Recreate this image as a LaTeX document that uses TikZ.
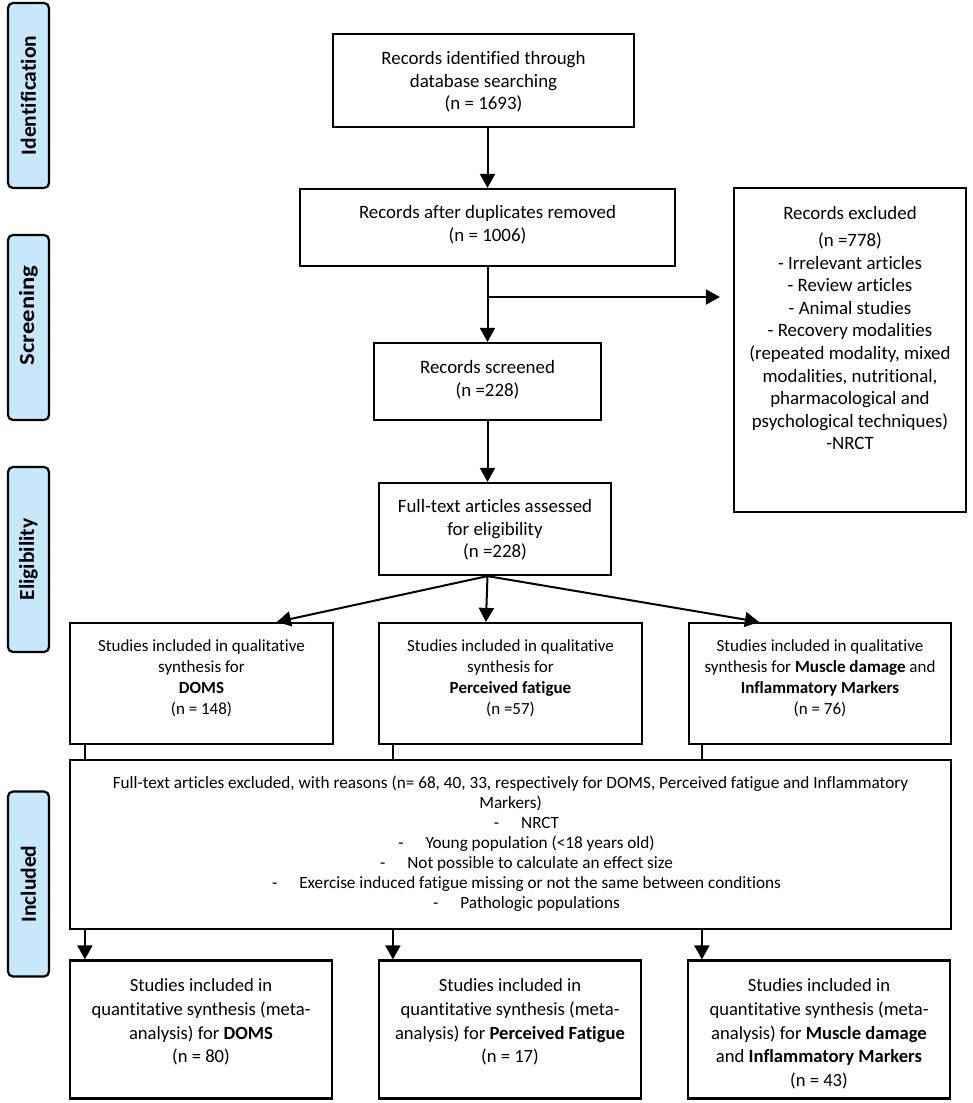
\documentclass[tikz,border=0pt]{standalone}
\usepackage{fontspec}
\setmainfont{Carlito}[Ligatures=NoCommon]
\usetikzlibrary{arrows.meta}
\definecolor{labblue}{RGB}{199,231,250}
\begin{document}
\begin{tikzpicture}[x=1pt,y=-1pt,
  box/.style={draw, line width=2.2pt, inner sep=0pt},
  txt/.style={align=center, inner sep=0pt},
  big/.style={font=\fontsize{18.9}{22.6}\selectfont},
  bot/.style={font=\fontsize{18.6}{23.8}\selectfont},
  mid/.style={font=\fontsize{17}{21.2}\selectfont},
  sml/.style={font=\fontsize{17.2}{20}\selectfont},
  lab/.style={draw, line width=2.2pt, rounded corners=5pt, fill=labblue, minimum width=185pt, minimum height=41pt, inner sep=0pt, rotate=90, font=\fontsize{21.5}{24}\selectfont\bfseries},
  arr/.style={line width=2pt, -{Triangle[width=15pt,length=14pt]}},
  ln/.style={line width=2pt}]
\useasboundingbox (0,0) rectangle (972,1103);
% phase labels
\node[lab] (l1) at (28.5,95.5) {Identification};
\node[lab] (l2) at (28.5,327.5) {\hspace*{24pt}\scalebox{1.15}[1]{Screening}};
\node[lab] (l3) at (28.5,559.5) {Eligibility};
\node[lab] (l4) at (28.5,884) {Included};
% boxes
\node[box, minimum width=301pt, minimum height=93pt] (b1) at (483.5,80.5) {};
\node[txt,big] (t1) at (483.5,82) {Records identified through\\database searching\\(n = 1693)};
\node[box, minimum width=375pt, minimum height=77pt] (b2) at (487.5,227.5) {};
\node[txt,big] (t2) at (487.5,225) {Records after duplicates removed\\(n = 1006)};
\node[box, minimum width=232pt, minimum height=324pt] (ex) at (850,350) {};
\node[txt,big] (tex) at (850,328.3) {Records excluded\\[4pt](n =778)\\- Irrelevant articles\\- Review articles\\- Animal studies\\- Recovery modalities\\(repeated modality, mixed\\modalities, nutritional,\\pharmacological and\\psychological techniques)\\-NRCT};
\node[box, minimum width=227pt, minimum height=77pt] (sc) at (487.5,381.5) {};
\node[txt,big] (tsc) at (487.5,380) {Records screened\\(n =228)};
\node[box, minimum width=232pt, minimum height=92pt] (ft) at (495,529) {};
\node[txt,big] (tft) at (495,530) {Full-text articles assessed\\for eligibility\\(n =228)};
% row 2
\node[box, minimum width=263pt, minimum height=121pt] (ra) at (201.5,683.5) {};
\node[txt,mid] (tra) at (201.5,678.3) {Studies included in qualitative\\synthesis for\\\textbf{DOMS}\\(n = 148)};
\node[box, minimum width=263pt, minimum height=121pt] (rb) at (510.5,683.5) {};
\node[txt,mid] (trb) at (510.5,678.3) {Studies included in qualitative\\synthesis for\\\textbf{Perceived fatigue}\\(n =57)};
\node[box, minimum width=262pt, minimum height=121pt] (rc) at (820,683.5) {};
\node[txt,mid] (trc) at (820,678.3) {Studies included in qualitative\\synthesis for \textbf{Muscle damage} and\\\textbf{Inflammatory Markers}\\(n = 76)};
% big exclusion box
\node[box, minimum width=881pt, minimum height=169pt] (bg) at (510.5,844.5) {};
\node[txt,sml] (tbg) at (510.5,843.3) {Full-text articles excluded, with reasons (n= 68, 40, 33, respectively for DOMS, Perceived fatigue and Inflammatory\\Markers)\\\hspace*{32pt}-\hspace{22pt}NRCT\\\hspace*{32pt}-\hspace{22pt}Young population (<18 years old)\\\hspace*{32pt}-\hspace{22pt}Not possible to calculate an effect size\\\hspace*{32pt}-\hspace{22pt}Exercise induced fatigue missing or not the same between conditions\\\hspace*{32pt}-\hspace{22pt}Pathologic populations};
% bottom boxes
\node[box, minimum width=262pt, minimum height=138pt] (oa) at (201,1029.5) {};
\node[txt,bot] (toa) at (201,1022) {Studies included in\\quantitative synthesis (meta-\\analysis) for \textbf{DOMS}\\(n = 80)};
\node[box, minimum width=262pt, minimum height=138pt] (ob) at (510,1029.5) {};
\node[txt,bot] (tob) at (510,1022) {Studies included in\\quantitative synthesis (meta-\\analysis) for \textbf{Perceived Fatigue}\\(n = 17)};
\node[box, minimum width=262pt, minimum height=138pt] (oc) at (819,1029.5) {};
\node[txt,bot] (toc) at (819,1034) {Studies included in\\quantitative synthesis (meta-\\analysis) for \textbf{Muscle damage}\\and \textbf{Inflammatory Markers}\\(n = 43)};
% connectors
\draw[arr] (b2.north |- b1.south) -- (b2.north);
\coordinate (br) at (487.5,297);
\draw[arr] (b2.south) -- (sc.north);
\draw[arr, shorten >=13pt] (br) -- (br -| ex.west);
\draw[arr] (sc.south) -- (sc.south |- ft.north);
\coordinate (fork) at (sc.south |- ft.south);
\draw[arr] (fork) -- ([xshift=208pt]ra.north west);
\draw[arr] (fork) -- ([xshift=108pt]rb.north west);
\draw[arr] (fork) -- ([xshift=71pt]rc.north west);
\draw[ln] ([xshift=16pt]ra.south west) coordinate (c1) -- (c1 |- bg.north);
\draw[ln] ([xshift=15pt]rb.south west) coordinate (c2) -- (c2 |- bg.north);
\draw[ln] ([xshift=14pt]rc.south west) coordinate (c3) -- (c3 |- bg.north);
\draw[arr] (c1 |- bg.south) -- (c1 |- oa.north);
\draw[arr] (c2 |- bg.south) -- (c2 |- ob.north);
\draw[arr] (c3 |- bg.south) -- (c3 |- oc.north);
\end{tikzpicture}
\end{document}
